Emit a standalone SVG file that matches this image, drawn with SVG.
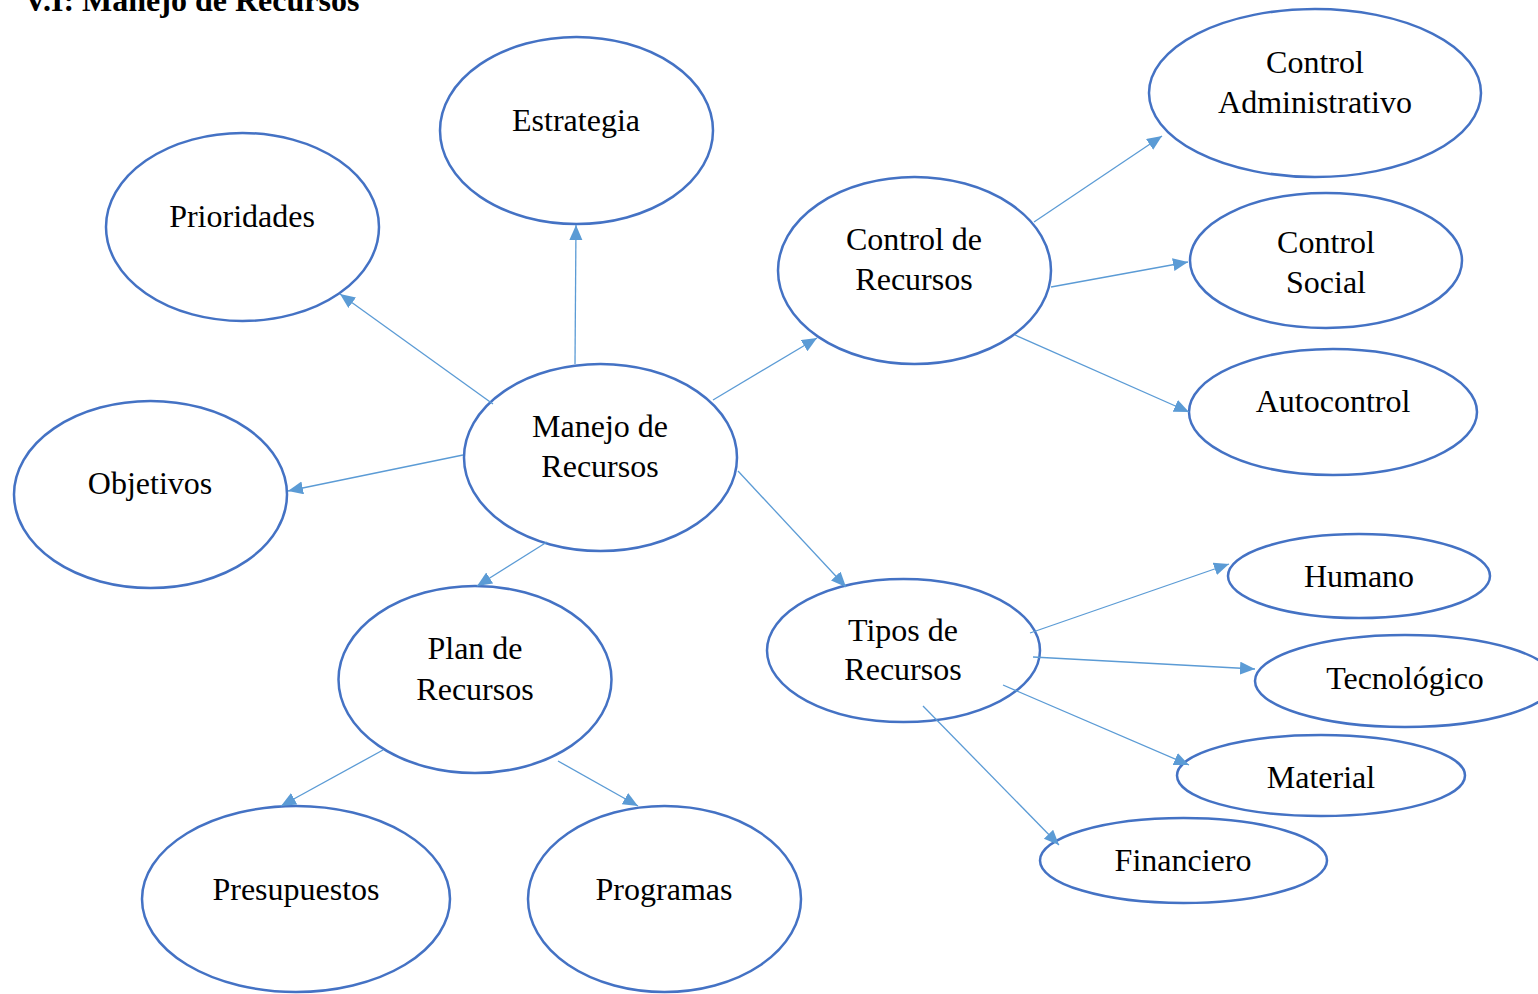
<svg xmlns="http://www.w3.org/2000/svg" width="1538" height="994" viewBox="0 0 1538 994">
<defs>
<style>
.n ellipse{fill:#fff;stroke:#4472C4;stroke-width:2.5}
.n text{font-family:"Liberation Serif","Times New Roman",serif;font-size:32px;fill:#000;text-anchor:middle}
#connectors line{stroke:#5B9BD5;stroke-width:1.3;marker-end:url(#ah)}
.title{font-family:"Liberation Serif","Times New Roman",serif;font-size:32px;font-weight:bold;fill:#000}
</style>
<marker id="ah" markerUnits="userSpaceOnUse" markerWidth="16" markerHeight="14" refX="15" refY="6.5" orient="auto">
<path d="M0,0 L15,6.5 L0,13 Z" fill="#5B9BD5"/>
</marker>
</defs>
<rect width="1538" height="994" fill="#fff"/>
<text class="title" x="24" y="11">V.I: Manejo de Recursos</text>
<g class="n" id="estrategia"><ellipse cx="576.5" cy="130.5" rx="136.5" ry="93.5"/><text x="576" y="131">Estrategia</text></g>
<g class="n" id="prioridades"><ellipse cx="242.5" cy="227" rx="136.5" ry="94"/><text x="242" y="227">Prioridades</text></g>
<g class="n" id="objetivos"><ellipse cx="150.5" cy="494.5" rx="136.5" ry="93.5"/><text x="150" y="494">Objetivos</text></g>
<g class="n" id="manejo"><ellipse cx="600.5" cy="457.5" rx="136.5" ry="93.5"/><text x="600" y="437">Manejo de</text><text x="600" y="477">Recursos</text></g>
<g class="n" id="control-recursos"><ellipse cx="914.5" cy="270.5" rx="136.5" ry="93.5"/><text x="914" y="250">Control de</text><text x="914" y="290">Recursos</text></g>
<g class="n" id="control-admin"><ellipse cx="1315" cy="93" rx="166" ry="84"/><text x="1315" y="73">Control</text><text x="1315" y="113">Administrativo</text></g>
<g class="n" id="control-social"><ellipse cx="1326" cy="260.5" rx="136" ry="67.5"/><text x="1326" y="253">Control</text><text x="1326" y="293">Social</text></g>
<g class="n" id="autocontrol"><ellipse cx="1333" cy="412" rx="144" ry="63"/><text x="1333" y="412">Autocontrol</text></g>
<g class="n" id="plan"><ellipse cx="475" cy="679.5" rx="136.5" ry="93.5"/><text x="475" y="659">Plan de</text><text x="475" y="700">Recursos</text></g>
<g class="n" id="tipos"><ellipse cx="903.5" cy="650.5" rx="136.5" ry="71.5"/><text x="903" y="641">Tipos de</text><text x="903" y="680">Recursos</text></g>
<g class="n" id="humano"><ellipse cx="1359" cy="576" rx="131" ry="42"/><text x="1359" y="587">Humano</text></g>
<g class="n" id="tecnologico"><ellipse cx="1405" cy="681" rx="150" ry="46"/><text x="1405" y="689">Tecnológico</text></g>
<g class="n" id="material"><ellipse cx="1321" cy="775.5" rx="144" ry="40.5"/><text x="1321" y="788">Material</text></g>
<g class="n" id="financiero"><ellipse cx="1183.5" cy="860.5" rx="143.5" ry="42.5"/><text x="1183" y="871">Financiero</text></g>
<g class="n" id="presupuestos"><ellipse cx="296" cy="899" rx="154" ry="93"/><text x="296" y="900">Presupuestos</text></g>
<g class="n" id="programas"><ellipse cx="664.5" cy="899" rx="136.5" ry="93"/><text x="664" y="900">Programas</text></g>
<g id="connectors">
<line x1="575" y1="364" x2="576" y2="225"/>
<line x1="493" y1="404" x2="340" y2="294"/>
<line x1="463" y1="455" x2="288" y2="491"/>
<line x1="713" y1="400" x2="817" y2="338"/>
<line x1="738" y1="471" x2="846" y2="587"/>
<line x1="547" y1="542" x2="477" y2="586"/>
<line x1="1034" y1="222" x2="1162" y2="136"/>
<line x1="1051" y1="287" x2="1188" y2="262"/>
<line x1="1015" y1="335" x2="1189" y2="412"/>
<line x1="1030" y1="633" x2="1229" y2="564"/>
<line x1="1033" y1="657" x2="1255" y2="669"/>
<line x1="1003" y1="685" x2="1189" y2="765"/>
<line x1="923" y1="706" x2="1059" y2="845"/>
<line x1="383" y1="750" x2="281" y2="806"/>
<line x1="558" y1="761" x2="638" y2="806"/>
</g>
</svg>
